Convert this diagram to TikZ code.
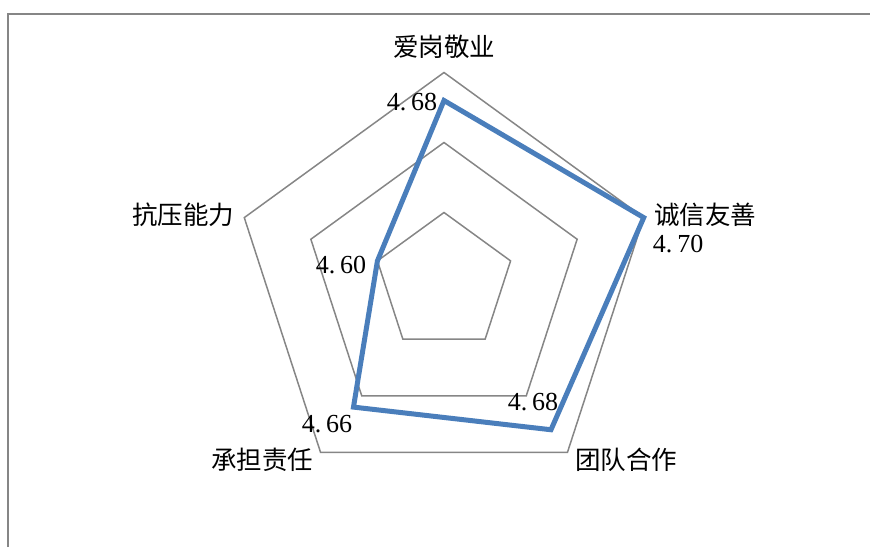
\documentclass[tikz,border=0pt]{standalone}
\usetikzlibrary{calc}
\usepackage{fontspec}
\setmainfont{Liberation Serif}
\newfontfamily\cjk{Noto Sans CJK SC}
\definecolor{ringgray}{HTML}{868686}
\definecolor{seriesblue}{HTML}{4A7EBB}
\begin{document}
\begin{tikzpicture}[x=1pt,y=-1pt,
  ring/.style={draw=ringgray,line width=1.5pt,line join=miter},
  series/.style={draw=seriesblue,line width=5pt,line join=miter},
  frame/.style={draw=ringgray,line width=2pt},
  cat/.style={font=\cjk\fontsize{25.5}{25.5}\selectfont,inner sep=0pt,text=black},
  val/.style={font=\fontsize{26}{26}\selectfont,inner sep=0pt,text=black}]
\useasboundingbox (0,0) rectangle (870,547);
\coordinate (c) at (444,282.5);
% frame
\coordinate (f1) at (8,547);
\coordinate (f2) at (8,14);
\coordinate (f3) at (870,14);
\draw[frame] (f1) -- (f2) -- (f3);
% rings
\foreach \r in {70,140,210}{
  \draw[ring] ($(c)+(-90:\r)$) \foreach \a in {-18,54,126,198}{ -- ($(c)+(\a:\r)$)} -- cycle;
}
% data
\coordinate (p1) at ($(c)+(-90:182)$);
\coordinate (p2) at ($(c)+(-18:210)$);
\coordinate (p3) at ($(c)+(54:182)$);
\coordinate (p4) at ($(c)+(126:154)$);
\coordinate (p5) at ($(c)+(198:70)$);
\draw[series] (p1) -- (p2) -- (p3) -- (p4) -- (p5) -- cycle;
% category labels
\node[cat] (l1) at (444,47) {爱岗敬业};
\node[cat] (l2) at (705,215) {诚信友善};
\node[cat] (l3) at (626,460) {团队合作};
\node[cat] (l4) at (262,460) {承担责任};
\node[cat] (l5) at (183,215) {抗压能力};
% value labels
\node[val] (v1) at (412,102) {4.\kern5pt68};
\node[val] (v2) at (678,244) {4.\kern5pt70};
\node[val] (v3) at (533,402) {4.\kern5pt68};
\node[val] (v4) at (327,424) {4.\kern5pt66};
\node[val] (v5) at (341,265.5) {4.\kern5pt60};
\end{tikzpicture}
\end{document}
